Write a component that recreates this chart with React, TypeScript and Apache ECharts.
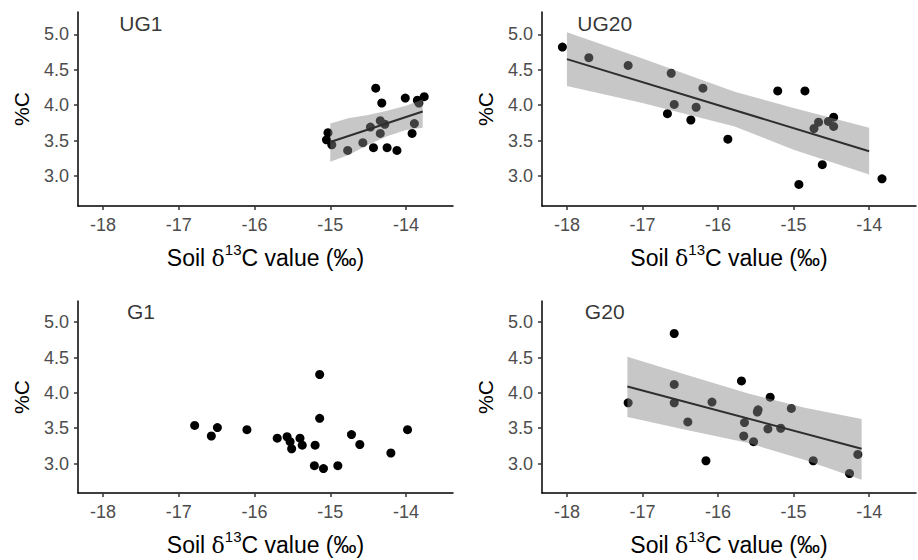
import React, { useEffect, useRef } from "react";
import * as echarts from "echarts";

// ---- data ----
const panelNames = ["UG1", "UG20", "G1", "G20"];

const ug1X = [-15.05, -15.03, -14.98, -14.77, -14.57, -14.47, -14.43, -14.40, -14.34, -14.34, -14.32, -14.28, -14.25, -14.12, -14.01, -13.92, -13.89, -13.85, -13.83, -13.76];
const ug1Y = [3.51, 3.61, 3.44, 3.36, 3.47, 3.69, 3.40, 4.24, 3.78, 3.60, 4.03, 3.73, 3.40, 3.36, 4.10, 3.60, 3.74, 4.07, 4.03, 4.12];

const ug20X = [-18.06, -17.71, -17.19, -16.62, -16.67, -16.58, -16.29, -16.36, -16.20, -15.87, -15.21, -14.93, -14.85, -14.73, -14.67, -14.62, -14.54, -14.47, -14.47, -13.83];
const ug20Y = [4.82, 4.67, 4.56, 4.45, 3.88, 4.01, 3.97, 3.79, 4.24, 3.52, 4.20, 2.88, 4.20, 3.67, 3.76, 3.16, 3.77, 3.83, 3.70, 2.96];

const g1X = [-16.79, -16.57, -16.49, -16.10, -15.70, -15.57, -15.53, -15.51, -15.40, -15.37, -15.20, -15.14, -15.14, -15.21, -15.09, -14.90, -14.72, -14.61, -14.20, -13.98];
const g1Y = [3.54, 3.39, 3.51, 3.48, 3.36, 3.38, 3.31, 3.21, 3.36, 3.26, 3.26, 4.26, 3.64, 2.97, 2.93, 2.97, 3.41, 3.27, 3.15, 3.48];

const g20X = [-17.19, -16.58, -16.58, -16.58, -16.40, -16.16, -16.08, -15.69, -15.66, -15.65, -15.53, -15.48, -15.47, -15.34, -15.31, -15.17, -15.03, -14.74, -14.26, -14.15];
const g20Y = [3.86, 4.84, 4.12, 3.86, 3.59, 3.04, 3.87, 4.17, 3.39, 3.58, 3.31, 3.73, 3.76, 3.49, 3.94, 3.50, 3.78, 3.04, 2.86, 3.13];

// fitted lines (endpoints)
const ug1LineX = [-15.0, -13.78];
const ug1LineY = [3.48, 3.91];
const ug20LineX = [-18.0, -14.0];
const ug20LineY = [4.65, 3.35];
const g20LineX = [-17.2, -14.1];
const g20LineY = [4.09, 3.21];

// confidence ribbons
const ug1BandX = [-15.0, -14.75, -14.5, -14.25, -14.0, -13.78];
const ug1BandLo = [3.20, 3.30, 3.44, 3.56, 3.65, 3.68];
const ug1BandHi = [3.74, 3.82, 3.86, 3.92, 3.99, 4.08];

const ug20BandX = [-18.0, -17.0, -15.78, -15.0, -14.0];
const ug20BandLo = [4.27, 4.03, 3.70, 3.37, 3.02];
const ug20BandHi = [5.03, 4.66, 4.19, 3.96, 3.68];

const g20BandX = [-17.2, -16.4, -15.6, -14.85, -14.1];
const g20BandLo = [3.66, 3.47, 3.29, 3.05, 2.77];
const g20BandHi = [4.51, 4.25, 3.99, 3.79, 3.63];

const xTicks = [-18, -17, -16, -15, -14];
const yTicks = [3.0, 3.5, 4.0, 4.5, 5.0];
const labelPos = [-17.5, 5.15];

const FONT = "Liberation Sans, Arial, sans-serif";

export default function App() {
  const ref = useRef<HTMLDivElement>(null);
  useEffect(() => {
    document.body.style.margin = "0";
    if (!ref.current) return;
    const chart = echarts.init(ref.current, undefined, { renderer: "svg" });

    const grids = [
      { left: 78, top: 12, width: 375, height: 194 },
      { left: 542, top: 12, width: 374, height: 194 },
      { left: 78, top: 301, width: 375, height: 192 },
      { left: 542, top: 301, width: 374, height: 192 },
    ];
    const yRanges = [
      [2.576, 5.315],
      [2.576, 5.315],
      [2.584, 5.30],
      [2.584, 5.30],
    ];

    const xAxes = grids.map((_, i) => ({
      type: "value",
      gridIndex: i,
      min: -18.33,
      max: -13.38,
      splitLine: { show: false },
      axisLine: { show: true, onZero: false, lineStyle: { color: "#000", width: 1.5 } },
      axisTick: { show: true, length: 4, customValues: xTicks, lineStyle: { color: "#333", width: 1.5 } },
      axisLabel: {
        customValues: xTicks,
        margin: 10,
        color: "#4d4d4d",
        fontSize: 18,
        fontFamily: FONT,
        formatter: (v: number) => String(v),
      },
      name: "{a|Soil }{d|δ}{s|13}{a|C value (‰)}",
      nameLocation: "middle",
      nameGap: 36,
      nameTextStyle: {
        fontFamily: FONT,
        fontSize: 23,
        color: "#000",
        rich: {
          a: { fontFamily: FONT, fontSize: 23, color: "#000", lineHeight: 27, verticalAlign: "bottom" },
          d: { fontFamily: "DejaVu Serif, serif", fontSize: 22, color: "#000", lineHeight: 27, verticalAlign: "bottom" },
          s: { fontFamily: FONT, fontSize: 15, color: "#000", lineHeight: 27, verticalAlign: "top" },
        },
      },
    }));

    const yAxes = grids.map((_, i) => ({
      type: "value",
      gridIndex: i,
      min: yRanges[i][0],
      max: yRanges[i][1],
      splitLine: { show: false },
      axisLine: { show: true, onZero: false, lineStyle: { color: "#000", width: 1.5 } },
      axisTick: { show: true, length: 4, customValues: yTicks, lineStyle: { color: "#333", width: 1.5 } },
      axisLabel: {
        customValues: yTicks,
        margin: 9,
        color: "#4d4d4d",
        fontSize: 18,
        fontFamily: FONT,
        formatter: (v: number) => v.toFixed(1),
      },
      name: "%C",
      nameLocation: "middle",
      nameGap: 46,
      nameTextStyle: { fontFamily: FONT, fontSize: 21, color: "#000" },
    }));

    const pts = [
      [ug1X, ug1Y],
      [ug20X, ug20Y],
      [g1X, g1Y],
      [g20X, g20Y],
    ];
    const bands: Record<number, [number[], number[], number[]]> = {
      0: [ug1BandX, ug1BandLo, ug1BandHi],
      1: [ug20BandX, ug20BandLo, ug20BandHi],
      3: [g20BandX, g20BandLo, g20BandHi],
    };
    const lines: Record<number, [number[], number[]]> = {
      0: [ug1LineX, ug1LineY],
      1: [ug20LineX, ug20LineY],
      3: [g20LineX, g20LineY],
    };

    const series: any[] = [];
    pts.forEach(([xs, ys], i) => {
      series.push({
        type: "scatter",
        xAxisIndex: i,
        yAxisIndex: i,
        symbolSize: 9,
        itemStyle: { color: "#000", opacity: 1 },
        z: 2,
        data: xs.map((x, k) => [x, ys[k]]),
      });
      series.push({
        type: "scatter",
        xAxisIndex: i,
        yAxisIndex: i,
        symbolSize: 0,
        z: 5,
        silent: true,
        label: {
          show: true,
          position: "inside",
          formatter: panelNames[i],
          fontFamily: FONT,
          fontSize: 21,
          color: "#000",
        },
        data: [labelPos],
      });
    });
    Object.keys(bands).forEach((key) => {
      const i = Number(key);
      const [bx, lo, hi] = bands[i];
      series.push({
        type: "custom",
        xAxisIndex: i,
        yAxisIndex: i,
        z: 3,
        silent: true,
        data: [[bx[0], lo[0]]],
        renderItem: (_p: any, api: any) => {
          const upper = bx.map((x, k) => api.coord([x, hi[k]]));
          const lower = bx.map((x, k) => api.coord([x, lo[k]])).reverse();
          return {
            type: "polygon",
            shape: { points: upper.concat(lower) },
            style: { fill: "#898989", opacity: 0.47 },
          };
        },
      });
    });
    Object.keys(lines).forEach((key) => {
      const i = Number(key);
      const [lx, ly] = lines[i];
      series.push({
        type: "line",
        xAxisIndex: i,
        yAxisIndex: i,
        z: 4,
        symbol: "none",
        silent: true,
        lineStyle: { color: "#2e2e2e", width: 2 },
        data: lx.map((x, k) => [x, ly[k]]),
      });
    });

    chart.setOption({
      animation: false,
      backgroundColor: "#fff",
      grid: grids,
      xAxis: xAxes,
      yAxis: yAxes,
      series,
    });
    return () => chart.dispose();
  }, []);
  return <div ref={ref} style={{ width: 918, height: 560 }} />;
}
